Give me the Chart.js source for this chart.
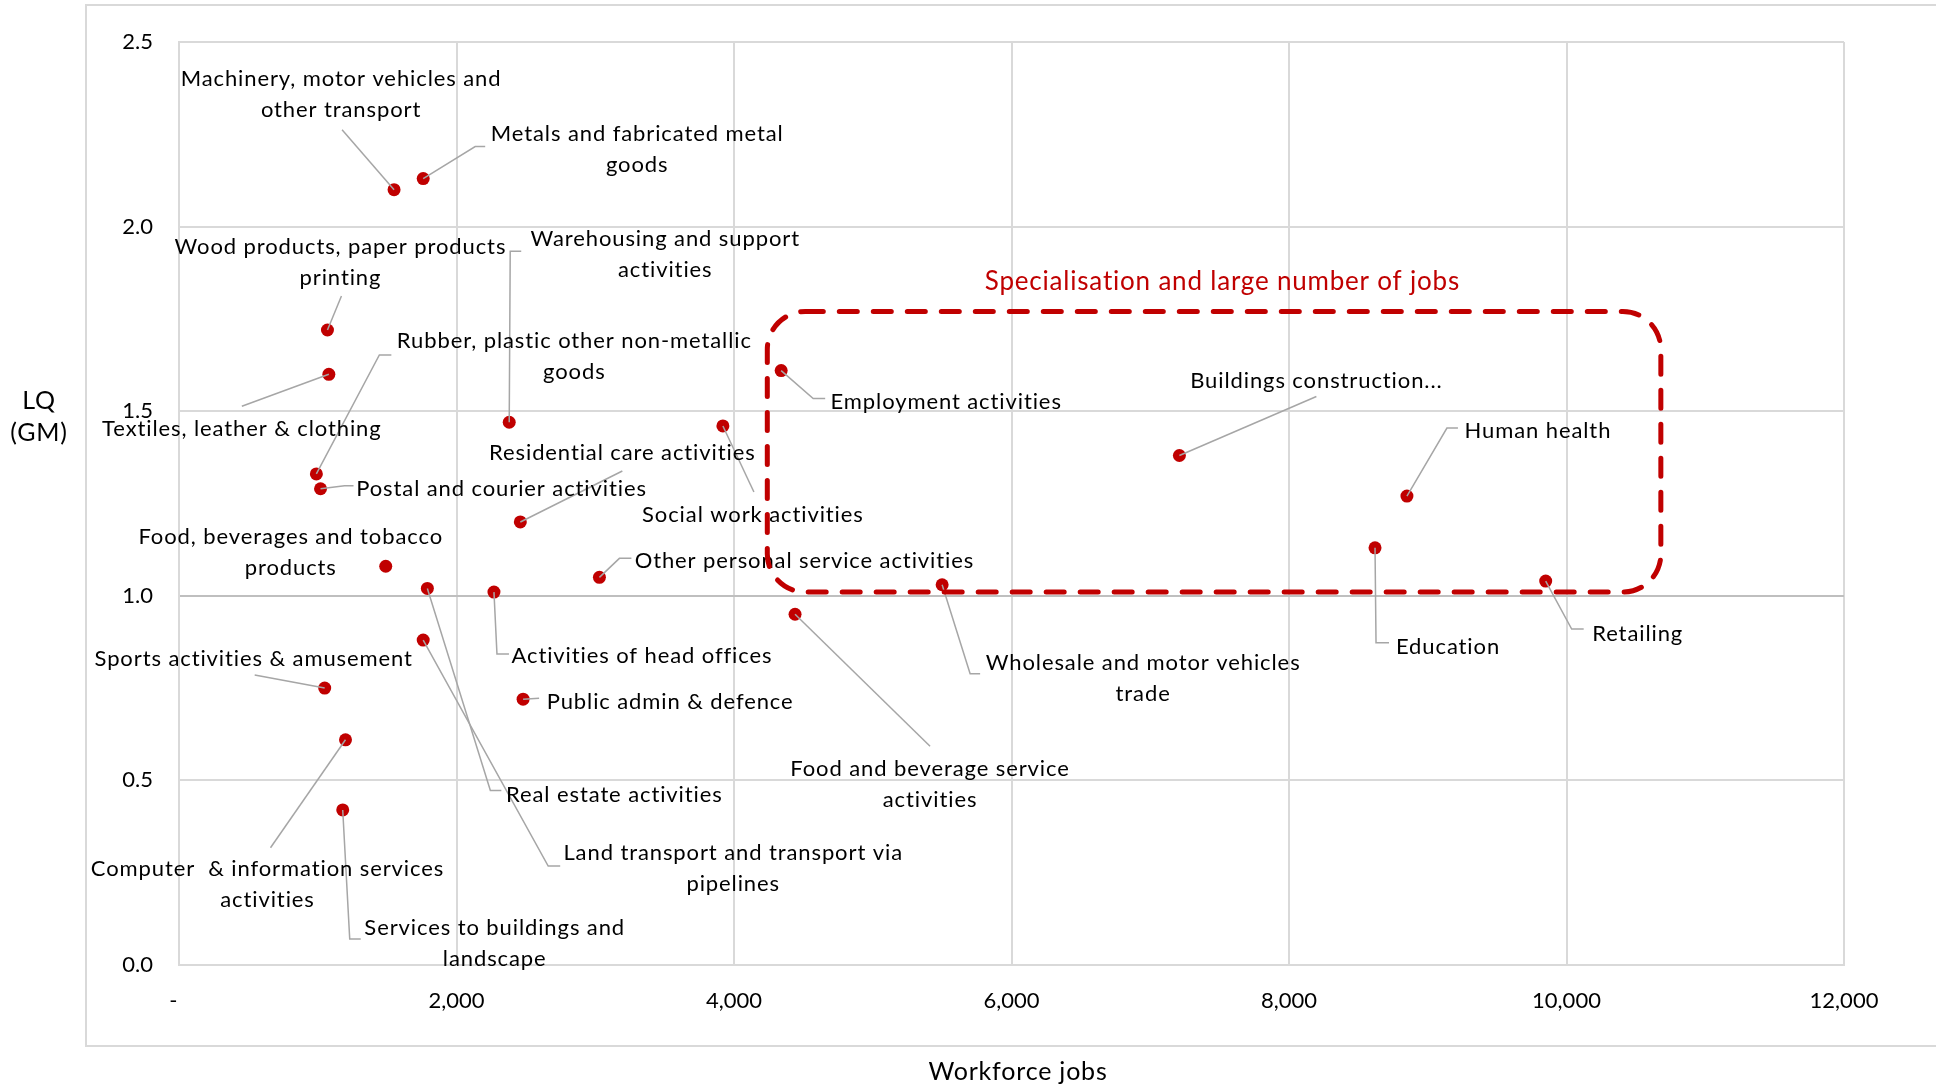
<!DOCTYPE html>
<html>
<head>
<meta charset="utf-8">
<title>LQ and workforce jobs by sector</title>
<script src="https://cdn.jsdelivr.net/npm/chart.js@4.4.1/dist/chart.umd.min.js"></script>
<style>
  html, body { margin:0; padding:0; background:#fff; }
  canvas { display:block; }
</style>
</head>
<body>
<canvas id="lqChart" width="1936" height="1087"></canvas>
<script>
// Sectors: workforce jobs vs location quotient (GM)
const sectors = [
  'Machinery, motor vehicles and other transport',
  'Metals and fabricated metal goods',
  'Wood products, paper products printing',
  'Textiles, leather & clothing',
  'Rubber, plastic other non-metallic goods',
  'Postal and courier activities',
  'Warehousing and support activities',
  'Social work activities',
  'Residential care activities',
  'Food, beverages and tobacco products',
  'Other personal service activities',
  'Real estate activities',
  'Activities of head offices',
  'Land transport and transport via pipelines',
  'Sports activities & amusement',
  'Public admin & defence',
  'Computer  & information services activities',
  'Services to buildings and landscape',
  'Employment activities',
  'Food and beverage service activities',
  'Wholesale and motor vehicles trade',
  'Buildings construction...',
  'Human health',
  'Education',
  'Retailing',
];
const workforceJobs = [1550, 1760, 1070, 1080, 990, 1020, 2380, 3920, 2460, 1490, 3030, 1790, 2270, 1760, 1050, 2480, 1200, 1180, 4340, 4440, 5500, 7210, 8850, 8620, 9850];
const lqValues      = [2.10, 2.13, 1.72, 1.60, 1.33, 1.29, 1.47, 1.46, 1.20, 1.08, 1.05, 1.02, 1.01, 0.88, 0.75, 0.72, 0.61, 0.42, 1.61, 0.95, 1.03, 1.38, 1.27, 1.13, 1.04];

const xTicks = [0, 2000, 4000, 6000, 8000, 10000, 12000];
const yTicks = [0, 0.5, 1.0, 1.5, 2.0, 2.5];

// highlighted zone, in axis units
const zoneJobs = [4240, 10680];
const zoneLq = [1.01, 1.77];
const zoneTitle = 'Specialisation and large number of jobs';
const zoneTitleAt = { jobs: 7520, lq: 1.85 };

// label placement relative to each point (px): split = words on first line
const labelLayout = [
  { split: 4, dx: -53, dy: -95, leader: [[-52, -60]] },
  { split: 4, dx: 214, dy: -29, leader: [[52, -32], [62, -32]] },
  { split: 4, dx: 13, dy: -68, leader: [[14, -34]] },
  { split: 0, dx: -87, dy: 55, leader: [[-87, 32]] },
  { split: 4, dx: 258, dy: -118, leader: [[63, -119], [75, -119]] },
  { split: 0, dx: 181, dy: 0, leader: [[24, -3], [33, -3]] },
  { split: 3, dx: 156, dy: -168, leader: [[1, -171], [12, -171]] },
  { split: 0, dx: 30, dy: 89, leader: [[31, 66]] },
  { split: 0, dx: 102, dy: -69, leader: [[102, -51]] },
  { split: 4, dx: -95, dy: -14, leader: null },
  { split: 0, dx: 205, dy: -16, leader: [[20, -19], [32, -19]] },
  { split: 0, dx: 187, dy: 206, leader: [[63, 202], [74, 202]] },
  { split: 0, dx: 148, dy: 64, leader: [[3, 62], [15, 62]] },
  { split: 5, dx: 310, dy: 228, leader: [[125, 226], [137, 226]] },
  { split: 0, dx: -71, dy: -29, leader: [[-70, -13]] },
  { split: 0, dx: 147, dy: 3, leader: [[16, -1]] },
  { split: 5, dx: -78, dy: 145, leader: [[-75, 108]] },
  { split: 4, dx: 152, dy: 133, leader: [[7, 129], [18, 129]] },
  { split: 0, dx: 165, dy: 31, leader: [[32, 28], [44, 28]] },
  { split: 4, dx: 135, dy: 170, leader: [[135, 132]] },
  { split: 4, dx: 201, dy: 94, leader: [[28, 89], [38, 89]] },
  { split: 0, dx: 137, dy: -75, leader: [[137, -59]] },
  { split: 0, dx: 131, dy: -65, leader: [[40, -68], [51, -68]] },
  { split: 0, dx: 73, dy: 99, leader: [[1, 95], [14, 95]] },
  { split: 0, dx: 92, dy: 53, leader: [[26, 48], [38, 48]] },
];

const FONT = 'Lato, "Open Sans", sans-serif';
const RED = '#C00000';
const GRID = '#D9D9D9';

function labelLines(name, split) {
  if (!split) return [name];
  const words = name.split(' ');
  return [words.slice(0, split).join(' '), words.slice(split).join(' ')];
}

function roundedRect(ctx, x0, y0, x1, y1, r) {
  ctx.beginPath();
  ctx.moveTo(x0 + r, y0);
  ctx.lineTo(x1 - r, y0);
  ctx.arcTo(x1, y0, x1, y0 + r, r);
  ctx.lineTo(x1, y1 - r);
  ctx.arcTo(x1, y1, x1 - r, y1, r);
  ctx.lineTo(x0 + r, y1);
  ctx.arcTo(x0, y1, x0, y1 - r, r);
  ctx.lineTo(x0, y0 + r);
  ctx.arcTo(x0, y0, x0 + r, y0, r);
  ctx.closePath();
}

const annotations = {
  id: 'annotations',
  beforeDraw(chart) {
    const ctx = chart.ctx;
    ctx.save();
    ctx.fillStyle = '#fff';
    ctx.fillRect(0, 0, chart.width, chart.height);
    ctx.strokeStyle = GRID;
    ctx.lineWidth = 2;
    ctx.strokeRect(86, 5, chart.width, 1041);

    // axis titles
    ctx.fillStyle = '#000';
    ctx.textAlign = 'center';
    ctx.textBaseline = 'middle';
    ctx.font = '25px ' + FONT;
    ctx.letterSpacing = '0.8px';
    ctx.fillText('LQ', 39, 401);
    ctx.fillText('(GM)', 39, 433);
    ctx.fillText('Workforce jobs', 1018, 1072);
    ctx.restore();
  },
  afterDatasetsDraw(chart) {
    const ctx = chart.ctx;
    const pts = chart.getDatasetMeta(0).data;
    const xs = chart.scales.x, ys = chart.scales.y;
    ctx.save();

    // leader lines
    ctx.strokeStyle = '#A6A6A6';
    ctx.lineWidth = 1.5;
    labelLayout.forEach((lay, i) => {
      if (!lay.leader) return;
      const p = pts[i];
      ctx.beginPath();
      ctx.moveTo(p.x, p.y);
      lay.leader.forEach(([lx, ly]) => ctx.lineTo(p.x + lx, p.y + ly));
      ctx.stroke();
    });

    // sector labels
    ctx.fillStyle = '#000';
    ctx.font = '22px ' + FONT;
    ctx.letterSpacing = '0.9px';
    ctx.textAlign = 'center';
    ctx.textBaseline = 'middle';
    labelLayout.forEach((lay, i) => {
      const p = pts[i];
      const lines = labelLines(sectors[i], lay.split);
      lines.forEach((t, k) => {
        ctx.fillText(t, p.x + lay.dx, p.y + lay.dy + (k - (lines.length - 1) / 2) * 31);
      });
    });

    // dashed zone
    const x0 = xs.getPixelForValue(zoneJobs[0]), x1 = xs.getPixelForValue(zoneJobs[1]);
    const y0 = ys.getPixelForValue(zoneLq[1]), y1 = ys.getPixelForValue(zoneLq[0]);
    ctx.strokeStyle = RED;
    ctx.lineWidth = 5;
    ctx.lineCap = 'round';
    ctx.setLineDash([18, 16]);
    roundedRect(ctx, x0, y0, x1, y1, 38);
    ctx.stroke();
    ctx.setLineDash([]);

    ctx.fillStyle = RED;
    ctx.font = '26px ' + FONT;
    ctx.letterSpacing = '0.8px';
    ctx.fillText(zoneTitle, xs.getPixelForValue(zoneTitleAt.jobs), ys.getPixelForValue(zoneTitleAt.lq));
    ctx.restore();
  }
};

function draw() {
  new Chart(document.getElementById('lqChart'), {
    type: 'scatter',
    data: {
      datasets: [{
        label: 'LQ',
        data: workforceJobs.map((v, i) => ({ x: v, y: lqValues[i] })),
        backgroundColor: RED,
        borderWidth: 0,
        pointRadius: 6.5,
      }]
    },
    options: {
      responsive: false,
      animation: false,
      devicePixelRatio: 1,
      layout: { padding: { left: 0, top: 42, right: 92, bottom: 0 } },
      plugins: { legend: { display: false }, tooltip: { enabled: false } },
      scales: {
        x: {
          type: 'linear',
          min: 0, max: 12000,
          afterBuildTicks: s => { s.ticks = xTicks.map(v => ({ value: v })); },
          afterFit: s => { s.height = 122; },
          grid: { color: GRID, lineWidth: 2, drawTicks: false },
          border: { color: GRID, width: 2 },
          ticks: {
            padding: 23,
            color: '#000',
            font: { family: FONT, size: 22 },
            callback: v => v === 0 ? '-  ' : v.toLocaleString('en-US'),
          },
        },
        y: {
          type: 'linear',
          min: 0, max: 2.5,
          afterBuildTicks: s => { s.ticks = yTicks.map(v => ({ value: v })); },
          afterFit: s => { s.width = 179; },
          grid: {
            color: c => (c.tick && c.tick.value === 1) ? '#BFBFBF' : GRID,
            lineWidth: 2,
            drawTicks: false,
          },
          border: { color: GRID, width: 2 },
          ticks: {
            padding: 26,
            color: '#000',
            font: { family: FONT, size: 22 },
            callback: v => v.toFixed(1),
          },
        },
      },
    },
    plugins: [annotations],
  });
}

Promise.all([
  document.fonts.load('22px Lato'),
  document.fonts.load('25px Lato'),
]).then(draw, draw);
</script>
</body>
</html>
